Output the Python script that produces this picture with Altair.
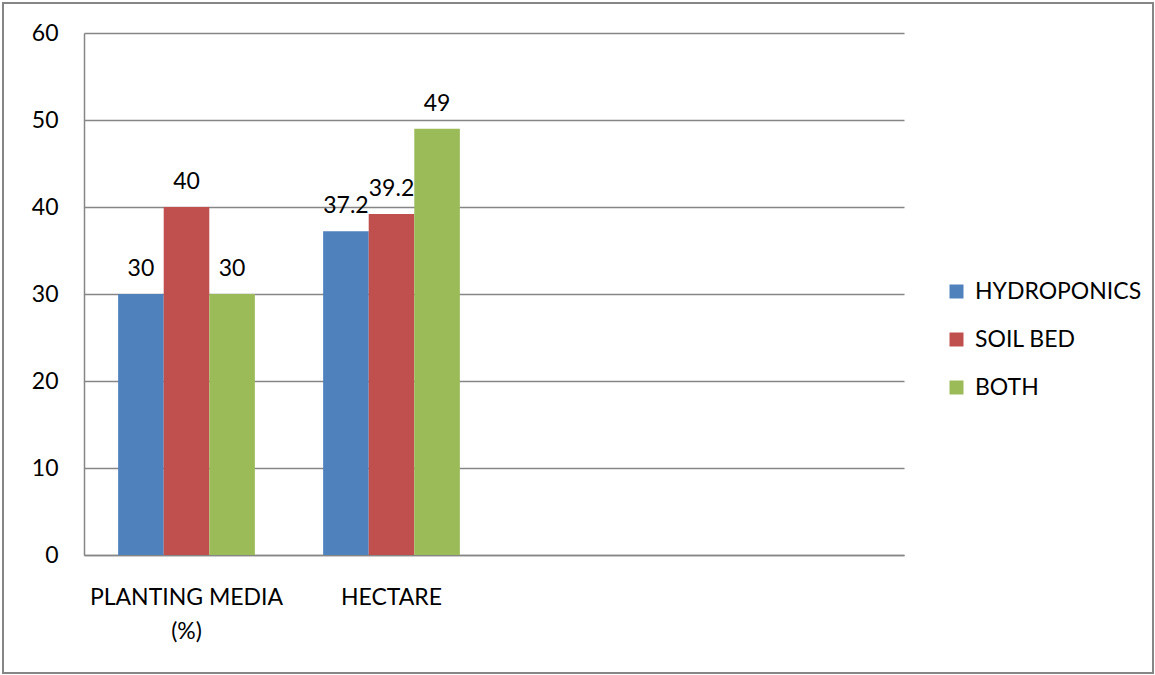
import altair as alt
import pandas as pd

categories = ["PLANTING MEDIA (%)", "HECTARE"]
empty_slots = [" ", "  "]
series = ["HYDROPONICS", "SOIL BED", "BOTH"]
hydroponics = [30, 37.2]
soil_bed = [40, 39.2]
both = [30, 49]
colors = ["#4F81BD", "#C0504D", "#9BBB59"]
y_ticks = [0, 10, 20, 30, 40, 50, 60]

rows = []
for s, vals in zip(series, [hydroponics, soil_bed, both]):
    for c, v in zip(categories, vals):
        rows.append({"category": c, "series": s, "value": v})
df = pd.DataFrame(rows)

FONT = "Lato"
FS = 23
GRAY = "#868686"

x_enc = alt.X(
    "category:N",
    scale=alt.Scale(domain=categories + empty_slots, paddingInner=0.333, paddingOuter=0.1665),
    sort=categories + empty_slots,
    axis=alt.Axis(
        title=None, labelAngle=0, ticks=False, domainColor=GRAY, domainWidth=1.5,
        labelFont=FONT, labelFontSize=FS, labelColor="#000000", labelPadding=31,
        labelLineHeight=34, labelLimit=0,
        labelExpr="datum.label == 'PLANTING MEDIA (%)' ? ['PLANTING MEDIA', '(%)'] : datum.label",
        grid=False,
    ),
)
y_enc = alt.Y(
    "value:Q",
    scale=alt.Scale(domain=[0, 60], nice=False),
    axis=alt.Axis(
        title=None, values=y_ticks, ticks=False, grid=True, gridColor=GRAY, gridWidth=1.5,
        domainColor=GRAY, domainWidth=1.5, labelFont=FONT, labelFontSize=FS,
        labelColor="#000000", labelPadding=26,
    ),
)
xoff = alt.XOffset("series:N", sort=series, scale=alt.Scale(domain=series))

bars = alt.Chart(df).mark_bar().encode(
    x=x_enc,
    y=y_enc,
    xOffset=xoff,
    color=alt.Color(
        "series:N",
        scale=alt.Scale(domain=series, range=colors),
        sort=series,
        legend=alt.Legend(
            title=None, orient="none", legendX=861, legendY=247, symbolType="square",
            symbolSize=196, symbolStrokeWidth=0, labelFont=FONT, labelFontSize=FS,
            labelColor="#000000", rowPadding=24, labelOffset=7, padding=0, labelLimit=0,
        ),
    ),
)

labels = alt.Chart(df).mark_text(
    font=FONT, fontSize=FS, color="#000000", baseline="bottom", dy=-13
).encode(
    x=alt.X("category:N", scale=alt.Scale(domain=categories + empty_slots), sort=categories + empty_slots),
    y=alt.Y("value:Q"),
    xOffset=xoff,
    text=alt.Text("value:Q"),
)

border = alt.Chart(pd.DataFrame({"a": [0]})).mark_rect(
    fill=None, stroke=GRAY, strokeWidth=2
).encode(
    x=alt.value(-81), x2=alt.value(1069), y=alt.value(-30), y2=alt.value(640)
)

chart = alt.layer(bars, labels, border).properties(
    width=820, height=522,
    autosize=alt.AutoSizeParams(type="none"),
    padding={"left": 84, "top": 33, "right": 251, "bottom": 120},
    background="#FFFFFF",
).configure_view(stroke=None)

chart.save("out.html", embed_options={"renderer": "svg", "actions": False})
